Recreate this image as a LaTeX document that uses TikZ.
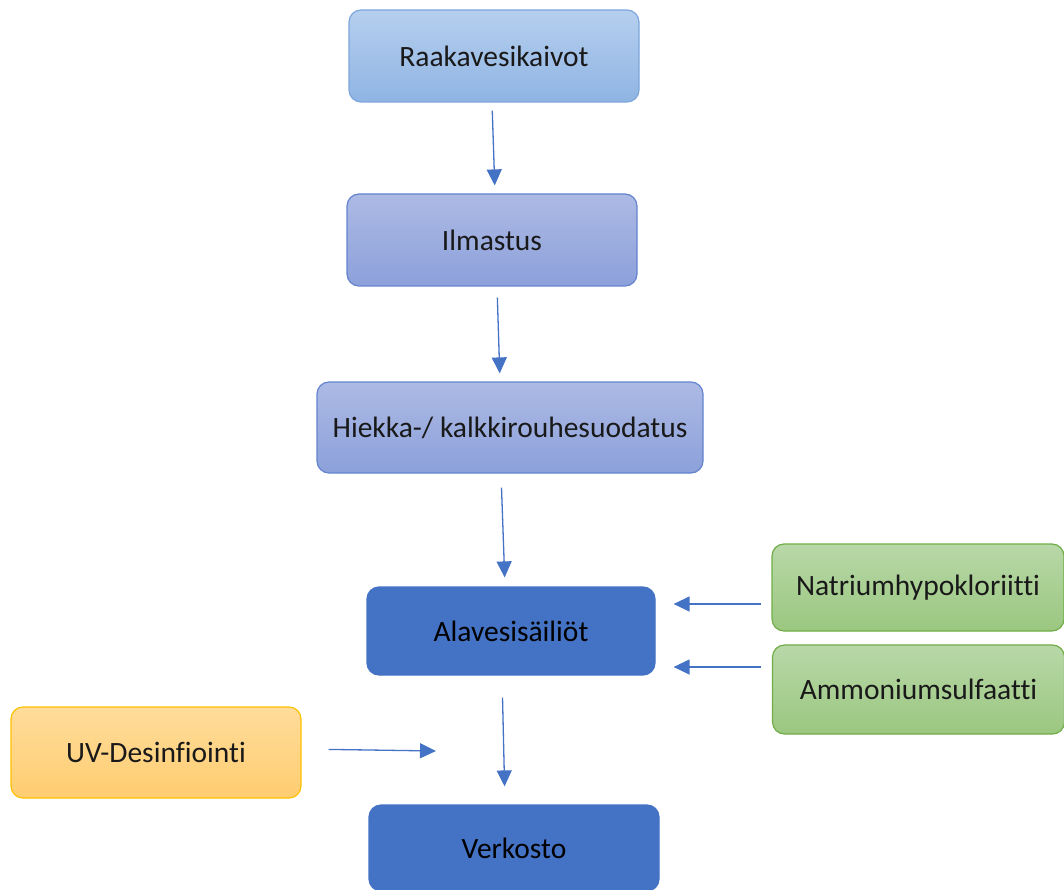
\documentclass[tikz,border=0pt]{standalone}
\usepackage{fontspec}
\setmainfont{Carlito}[Ligatures=NoCommon]
\usetikzlibrary{arrows.meta}
\definecolor{accent}{RGB}{68,114,196}
\definecolor{txt}{RGB}{25,25,25}
\definecolor{lbtop}{RGB}{182,207,238}
\definecolor{lbbot}{RGB}{143,180,227}
\definecolor{lbdraw}{RGB}{125,166,220}
\definecolor{lvtop}{RGB}{172,186,228}
\definecolor{lvbot}{RGB}{140,160,218}
\definecolor{lvdraw}{RGB}{100,132,208}
\definecolor{grtop}{RGB}{184,216,168}
\definecolor{grbot}{RGB}{155,199,128}
\definecolor{grdraw}{RGB}{112,173,71}
\definecolor{ortop}{RGB}{255,220,155}
\definecolor{orbot}{RGB}{255,205,112}
\definecolor{ordraw}{RGB}{255,192,0}
\tikzset{
  x=1pt,y=1pt,
  boxbase/.style={rectangle, rounded corners=12pt, line width=1.2pt, inner sep=0pt,
    font=\fontsize{29.5}{33}\selectfont, text=txt, align=center},
  lightbox/.style={boxbase, top color=lbtop, bottom color=lbbot, draw=lbdraw},
  violetbox/.style={boxbase, top color=lvtop, bottom color=lvbot, draw=lvdraw},
  darkbox/.style={boxbase, fill=accent, draw=accent, text=black},
  greenbox/.style={boxbase, top color=grtop, bottom color=grbot, draw=grdraw},
  orangebox/.style={boxbase, top color=ortop, bottom color=orbot, draw=ordraw},
  arr/.style={draw=accent, line width=1.3pt, -{Triangle[width=15pt,length=16pt]}}
}
\begin{document}
\begin{tikzpicture}
\useasboundingbox (0,0) rectangle (1064,-890);
\node[lightbox, minimum width=290pt, minimum height=92pt] (raaka) at (494,-56) {Raakavesikaivot};
\node[violetbox, minimum width=290pt, minimum height=92pt] (ilm) at (492,-240) {Ilmastus};
\node[violetbox, minimum width=386pt, minimum height=91pt] (hiek) at (510,-427.5) {Hiekka-/ kalkkirouhesuodatus};
\node[darkbox, minimum width=288pt, minimum height=88pt] (ala) at (511,-631) {Alavesisäiliöt};
\node[darkbox, minimum width=290pt, minimum height=86pt] (verk) at (514,-848) {Verkosto};
\node[greenbox, minimum width=292pt, minimum height=87pt] (nat) at (918,-587.5) {Natriumhypokloriitti};
\node[greenbox, minimum width=292pt, minimum height=89pt] (amm) at (918.5,-689.5) {Ammoniumsulfaatti};
\node[orangebox, minimum width=290pt, minimum height=91pt] (uv) at (156,-752.5) {UV-Desinfiointi};
\coordinate (uvend) at (436,-751);

\draw[arr, shorten <=8pt, shorten >=8pt] ([xshift=-2pt]raaka.south) -- ([xshift=3pt]ilm.north);
\draw[arr, shorten <=11pt, shorten >=8pt] ([xshift=5pt]ilm.south) -- ([xshift=-10pt]hiek.north);
\draw[arr, shorten <=14pt, shorten >=9pt] ([xshift=-9pt]hiek.south) -- ([xshift=-6pt]ala.north);
\draw[arr, shorten <=10pt, shorten >=18pt] ([yshift=-16.5pt]nat.west) -- ([yshift=-16.5pt]nat.west -| ala.east);
\draw[arr, shorten <=10.5pt, shorten >=18pt] ([yshift=22.5pt]amm.west) -- ([yshift=22.5pt]amm.west -| ala.east);
\draw[arr, shorten <=22pt, shorten >=18pt] ([xshift=-9pt]ala.south) -- ([xshift=-9pt]verk.north);
\draw[arr, shorten <=27pt] ([yshift=3.5pt]uv.east) -- (uvend);
\end{tikzpicture}
\end{document}
